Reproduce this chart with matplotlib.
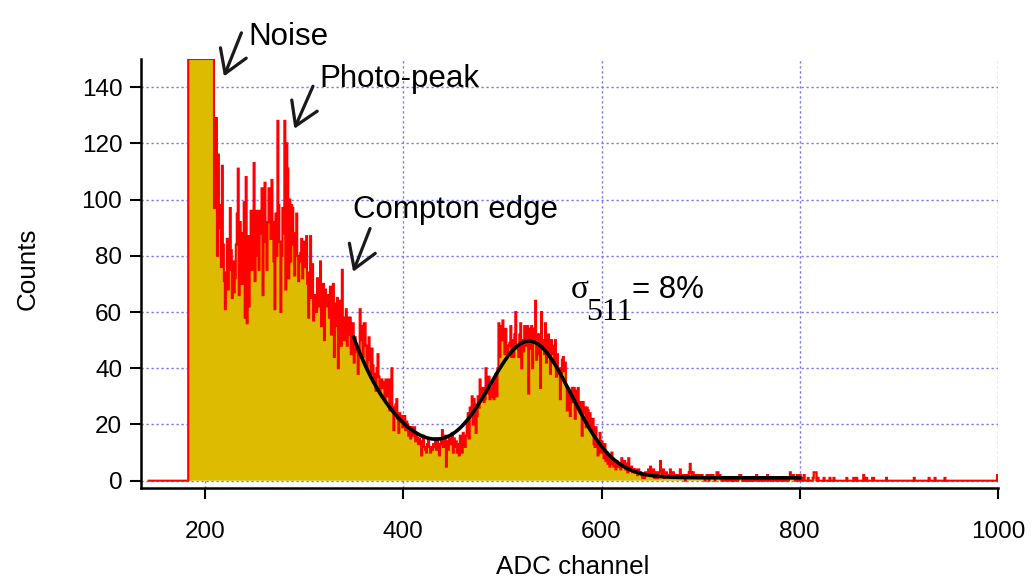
import numpy as np
import matplotlib
matplotlib.use("Agg")
import matplotlib.pyplot as plt

plt.rcParams["font.family"] = ["Liberation Sans", "DejaVu Sans"]

# Spectrum: counts per ADC channel, starting at channel 142
first_channel = 142
counts = [
    0, 0, 0, 0, 0, 0, 0, 0, 0, 0,
    0, 0, 0, 0, 0, 0, 0, 0, 0, 0,
    0, 0, 0, 0, 0, 0, 0, 0, 0, 0,
    0, 0, 0, 0, 0, 0, 0, 0, 0, 0,
    0, 150, 150, 150, 150, 150, 150, 150, 150, 150,
    150, 150, 150, 150, 150, 150, 150, 150, 150, 150,
    150, 150, 150, 150, 150, 150, 150, 97, 112, 129,
    80, 116, 90, 98, 76, 112, 84, 71, 61, 74,
    86, 68, 75, 97, 82, 65, 78, 67, 72, 84,
    95, 111, 66, 92, 80, 70, 88, 99, 58, 108,
    56, 87, 62, 79, 96, 75, 90, 113, 71, 84,
    96, 80, 75, 96, 88, 104, 66, 90, 106, 85,
    75, 92, 104, 97, 86, 107, 92, 78, 61, 95,
    80, 128, 98, 85, 60, 80, 97, 88, 128, 68,
    120, 111, 72, 100, 78, 98, 97, 84, 73, 88,
    95, 80, 71, 78, 81, 86, 72, 85, 80, 76,
    87, 70, 58, 74, 87, 65, 77, 57, 66, 65,
    60, 72, 70, 62, 78, 55, 62, 70, 50, 68,
    62, 66, 64, 58, 69, 52, 61, 70, 44, 63,
    55, 65, 40, 58, 64, 48, 75, 58, 50, 56,
    61, 48, 58, 52, 58, 45, 49, 56, 42, 51,
    48, 46, 38, 46, 61, 50, 55, 44, 56, 56,
    48, 40, 44, 51, 43, 38, 47, 41, 35, 38,
    32, 40, 45, 37, 31, 35, 36, 33, 35, 29,
    36, 30, 33, 36, 25, 30, 40, 26, 18, 24,
    27, 29, 22, 17, 24, 21, 23, 19, 22, 23,
    18, 21, 20, 16, 19, 15, 19, 17, 16, 19,
    14, 17, 15, 13, 15, 14, 9, 13, 16, 12,
    11, 10, 13, 15, 12, 10, 12, 11, 13, 12,
    15, 11, 15, 12, 9, 13, 15, 18, 12, 14,
    16, 5, 14, 11, 15, 13, 13, 17, 10, 15,
    12, 14, 10, 13, 9, 16, 12, 10, 17, 14,
    12, 16, 21, 24, 15, 26, 23, 30, 20, 29,
    27, 17, 23, 30, 26, 36, 32, 30, 33, 28,
    29, 40, 34, 31, 37, 29, 33, 30, 35, 29,
    32, 38, 30, 40, 56, 44, 50, 55, 57, 50,
    45, 54, 47, 45, 48, 49, 55, 44, 50, 44,
    52, 60, 48, 47, 44, 52, 56, 40, 50, 46,
    55, 52, 48, 55, 31, 54, 47, 55, 40, 54,
    49, 64, 43, 52, 45, 52, 33, 60, 47, 50,
    45, 56, 42, 50, 52, 44, 38, 50, 45, 48,
    42, 50, 37, 45, 38, 40, 29, 38, 43, 44,
    39, 42, 34, 25, 33, 30, 23, 32, 33, 28,
    33, 22, 32, 27, 33, 26, 28, 25, 16, 28,
    24, 26, 19, 26, 25, 19, 24, 18, 20, 22,
    13, 12, 19, 13, 9, 14, 17, 10, 14, 12,
    8, 13, 7, 10, 6, 9, 5, 7, 10, 6,
    5, 7, 4, 7, 5, 5, 6, 4, 8, 5,
    5, 7, 4, 6, 3, 8, 4, 4, 5, 3,
    4, 3, 4, 3, 2, 4, 3, 3, 2, 1,
    2, 1, 3, 3, 2, 4, 2, 5, 3, 2,
    4, 1, 2, 3, 1, 2, 3, 7, 3, 2,
    4, 1, 2, 3, 2, 2, 1, 4, 2, 1,
    3, 2, 1, 2, 1, 2, 1, 4, 2, 1,
    2, 1, 0, 2, 1, 2, 3, 6, 3, 2,
    3, 1, 2, 1, 2, 1, 2, 1, 2, 2,
    1, 1, 0, 1, 2, 1, 0, 2, 1, 1,
    2, 1, 0, 1, 3, 3, 2, 2, 1, 0,
    1, 1, 0, 1, 1, 0, 1, 1, 0, 1,
    0, 1, 0, 1, 1, 0, 1, 2, 2, 1,
    0, 1, 0, 1, 0, 0, 1, 0, 1, 0,
    1, 0, 0, 1, 2, 0, 0, 1, 0, 1,
    0, 0, 1, 0, 1, 2, 0, 0, 1, 0,
    0, 1, 0, 0, 1, 0, 1, 0, 0, 1,
    0, 0, 1, 0, 0, 1, 0, 1, 3, 2,
    1, 2, 1, 0, 1, 2, 0, 1, 2, 0,
    0, 1, 2, 0, 0, 0, 1, 0, 0, 0,
    0, 1, 3, 3, 3, 0, 1, 0, 0, 0,
    0, 0, 1, 0, 0, 0, 0, 0, 1, 0,
    0, 0, 1, 0, 0, 0, 0, 0, 0, 0,
    0, 0, 0, 0, 0, 1, 0, 0, 0, 0,
    0, 0, 1, 0, 0, 1, 0, 0, 0, 0,
    0, 0, 2, 0, 0, 1, 0, 0, 0, 0,
    0, 1, 1, 0, 0, 0, 0, 0, 0, 0,
    0, 0, 0, 0, 0, 1, 0, 0, 0, 0,
    0, 0, 0, 0, 0, 0, 0, 0, 0, 0,
    0, 0, 0, 0, 0, 0, 0, 0, 0, 0,
    0, 0, 0, 1, 0, 0, 0, 0, 0, 0,
    0, 0, 0, 0, 0, 0, 0, 0, 1, 0,
    0, 0, 0, 0, 1, 0, 0, 0, 0, 0,
    0, 0, 0, 0, 1, 0, 0, 0, 0, 0,
    0, 0, 0, 0, 0, 0, 0, 0, 0, 0,
    0, 0, 0, 0, 0, 0, 0, 0, 0, 0,
    0, 0, 0, 0, 0, 0, 0, 0, 0, 0,
    0, 0, 0, 0, 0, 0, 0, 0, 0, 0,
    0, 0, 0, 0, 0, 0, 0, 2, 2,
]
edges = np.arange(first_channel, first_channel + len(counts) + 1)

# Fit: exponential Compton background + Gaussian 511 keV peak
fit_lo, fit_hi = 350, 800
bg_amp, bg_decay, bg_const = 50.0, 52.0, 1.0
peak_amp, peak_mu, peak_sigma = 47.0, 528.0, 42.0

x_ticks = [200, 400, 600, 800, 1000]
y_ticks = [0, 20, 40, 60, 80, 100, 120, 140]

FILL = "#DDBB00"
LINE = "#FF0000"
GRID = "#7474F4"

W, H = 1032, 582
fig = plt.figure(figsize=(W / 100, H / 100), dpi=100)
ax = fig.add_axes([141 / W, 1 - 488 / H, (998 - 141) / W, (488 - 59) / H])

ax.stairs(counts, edges, fill=True, color=FILL, lw=0, zorder=2)
ax.stairs(counts, edges, color=LINE, lw=1.5, zorder=3)

xf = np.linspace(fit_lo, fit_hi, 451)
yf = (bg_const + bg_amp * np.exp(-(xf - fit_lo) / bg_decay)
      + peak_amp * np.exp(-(xf - peak_mu) ** 2 / (2 * peak_sigma ** 2)))
ax.plot(xf, yf, color="black", lw=2.6, zorder=4)

ax.set_xlim(135.4, 1000)
ax.set_ylim(-2.6, 150)
ax.set_xticks(x_ticks)
ax.set_yticks(y_ticks)
ax.grid(True, color=GRID, linestyle=(0, (1.6, 2.0)), lw=1.0)
ax.set_axisbelow(True)

for s in ("top", "right"):
    ax.spines[s].set_visible(False)
for s in ("left", "bottom"):
    ax.spines[s].set_linewidth(1.8)
ax.tick_params(axis="both", direction="out", length=8, width=1.5,
               labelsize=17.5)
ax.tick_params(axis="x", pad=16)
ax.tick_params(axis="y", pad=5.5)

fig.text(28 / W, 1 - 269 / H, "Counts", rotation=90, fontsize=18.7,
         ha="center", va="center")
fig.text(573 / W, 1 - 567 / H, "ADC channel", fontsize=18.7,
         ha="center", va="center")

arrow = dict(arrowstyle="->,head_length=0.8,head_width=0.5", lw=2.3,
             color="#1a1a1a", mutation_scale=20, shrinkA=0, shrinkB=0)
notes = [
    ("Noise", (243.4, 154.9), (236.7, 159.3), (219.1, 143.8)),
    ("Photo-peak", (315.0, 140.2), (308.9, 140.3), (290.1, 125.2)),
    ("Compton edge", (349.3, 93.3), (366.5, 89.7), (349.4, 74.3)),
]
for label, txy, tail, tip in notes:
    ax.text(txy[0], txy[1], label, fontsize=22.5, ha="left", va="baseline",
            clip_on=False, zorder=6)
    ax.annotate("", xy=tip, xytext=tail, arrowprops=arrow,
                annotation_clip=False, zorder=6)

ax.text(569.2, 64.9, "σ", family="Liberation Serif", fontsize=24,
        ha="left", va="baseline", zorder=6)
ax.text(584.4, 57.1, "511", family="Liberation Serif", fontsize=23,
        ha="left", va="baseline", zorder=6)
ax.text(630.8, 64.9, "= 8%", fontsize=22.5, ha="left", va="baseline",
        zorder=6)

fig.savefig("out.png", dpi=100)
